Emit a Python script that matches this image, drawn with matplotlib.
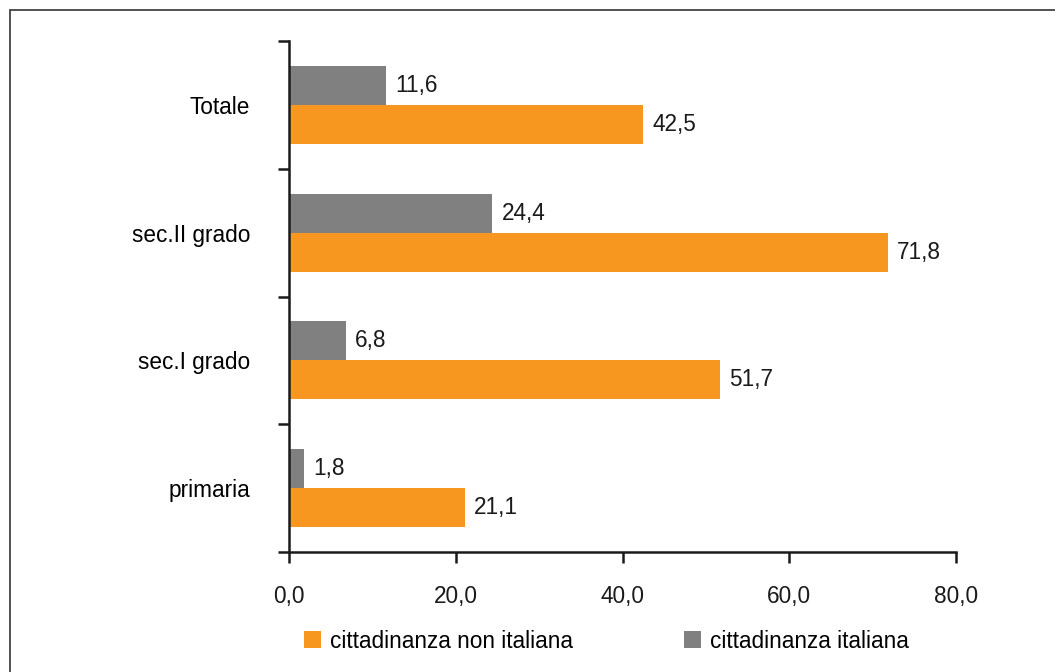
import numpy as np
import matplotlib.pyplot as plt
from matplotlib.patches import Rectangle

plt.rcParams['font.family'] = ['Liberation Sans', 'DejaVu Sans']

# Data
categories = ['primaria', 'sec.I grado', 'sec.II grado', 'Totale']
non_italiana = [21.1, 51.7, 71.8, 42.5]
italiana = [1.8, 6.8, 24.4, 11.6]
x_ticks = [0, 20, 40, 60, 80]

ORANGE = '#F7971F'
GREY = '#808080'
FS = 16.3

fig = plt.figure(figsize=(10.55, 6.72), dpi=100)
ax = fig.add_axes([289 / 1055, 1 - 552 / 672, (956 - 289) / 1055, (552 - 41) / 672])

# outer frame
fig.patches.append(Rectangle((10 / 1055, -0.1), 1.2, 1 - 10 / 672 + 0.1,
                             transform=fig.transFigure, fill=False,
                             edgecolor='#333333', lw=1.2))

y = np.arange(len(categories)) + 0.5
h = 0.305
b1 = ax.barh(y - h / 2, non_italiana, height=h, color=ORANGE,
             label='cittadinanza non italiana')
b2 = ax.barh(y + h / 2, italiana, height=h, color=GREY,
             label='cittadinanza italiana')

for bars, vals in ((b1, non_italiana), (b2, italiana)):
    for bar, v in zip(bars, vals):
        ax.text(v + 1.1, bar.get_y() + bar.get_height() / 2,
                f'{v:.1f}'.replace('.', ','), va='center', ha='left',
                fontsize=FS, color='#1a1a1a')

ax.set_xlim(0, 80)
ax.set_ylim(0, 4)
ax.set_xticks(x_ticks)
ax.set_xticklabels([f'{t:.1f}'.replace('.', ',') for t in x_ticks])
ax.set_yticks(range(5))
ax.set_yticklabels([])
ax.set_yticks(y, minor=True)
ax.set_yticklabels(categories, minor=True)
ax.tick_params(axis='y', which='minor', length=0, pad=28, labelsize=FS)
ax.tick_params(axis='both', which='major', length=8, width=1.8,
               direction='out', labelsize=FS, colors='#1a1a1a')
ax.tick_params(axis='x', pad=16)

for s in ('top', 'right'):
    ax.spines[s].set_visible(False)
for s in ('left', 'bottom'):
    ax.spines[s].set_linewidth(1.8)
    ax.spines[s].set_color('#1a1a1a')

handles = [b1, b2]
fig.legend(handles, [hd.get_label() for hd in handles], ncol=2, frameon=False,
           loc='center', bbox_to_anchor=(0.575, 1 - 641 / 672), fontsize=FS,
           handlelength=0.75, handleheight=0.75, handletextpad=0.4,
           columnspacing=4.9)

fig.savefig('out.png', dpi=100)
